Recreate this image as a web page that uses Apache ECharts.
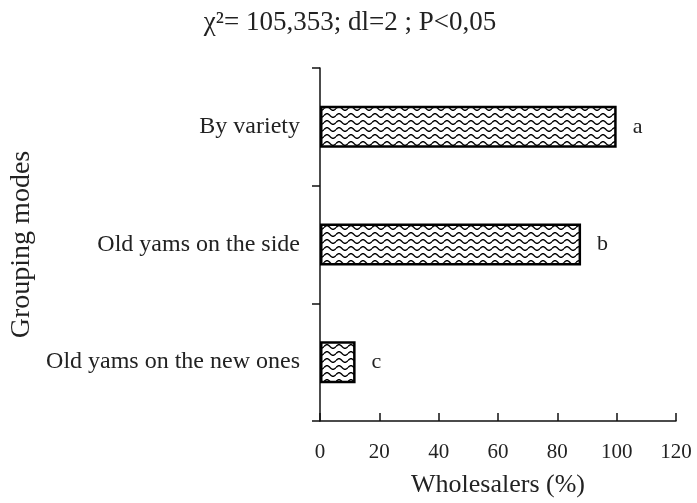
<!DOCTYPE html>
<html>
<head>
<meta charset="utf-8">
<script src="https://cdn.jsdelivr.net/npm/echarts@6/dist/echarts.min.js"></script>
<style>
  html, body { margin: 0; padding: 0; background: #fff; }
  #chart { width: 697px; height: 503px; }
</style>
</head>
<body>
<div id="chart"></div>
<script>
const categories = ['By variety', 'Old yams on the side', 'Old yams on the new ones']
const values = [100, 88, 12]
const letters = ['a', 'b', 'c']
const xTicks = [0, 20, 40, 60, 80, 100, 120]

// wavy hatch tile for the bars
function wavePattern () {
    const c = document.createElement('canvas')
    c.width = 12
    c.height = 7
    const ctx = c.getContext('2d')
    ctx.fillStyle = '#fff'
    ctx.fillRect(0, 0, 12, 7)
    ctx.strokeStyle = '#000'
    ctx.lineWidth = 1.4
    ctx.beginPath()
    for (let x = 0; x <= 12; x += 0.5) {
        const y = 3.5 - 1.8 * Math.sin(2 * Math.PI * x / 12)
        if (x === 0) ctx.moveTo(x, y)
        else ctx.lineTo(x, y)
    }
    ctx.stroke()
    return c
}

const font = 'Liberation Serif'
const myChart = echarts.init(document.getElementById('chart'))

const option = {
    animation: false,
    title: {
        text: 'χ²= 105,353; dl=2 ; P<0,05',
        left: 345,
        textAlign: 'center',
        top: 4,
        textStyle: { fontFamily: font, fontWeight: 'normal', fontSize: 27, color: '#222' }
    },
    grid: { left: 320, right: 21, top: 68, bottom: 82, outerBoundsMode: 'none' },
    xAxis: {
        type: 'value',
        min: xTicks[0],
        max: xTicks[xTicks.length - 1],
        interval: 20,
        name: 'Wholesalers (%)',
        nameLocation: 'middle',
        nameGap: 51,
        nameTextStyle: { fontFamily: font, fontSize: 26, color: '#222' },
        axisLine: { show: true, lineStyle: { color: '#111', width: 1.5 } },
        axisTick: { show: true, inside: true, length: 8, lineStyle: { color: '#111', width: 1.5 } },
        axisLabel: { fontFamily: font, fontSize: 21, color: '#222', margin: 21 },
        splitLine: { show: false }
    },
    yAxis: {
        type: 'category',
        inverse: true,
        data: categories,
        name: 'Grouping modes',
        nameLocation: 'middle',
        nameRotate: 90,
        nameGap: 284,
        nameTextStyle: { fontFamily: font, fontSize: 28, color: '#222' },
        axisLine: { show: true, lineStyle: { color: '#111', width: 1.5 } },
        axisTick: { show: true, inside: false, length: 8, lineStyle: { color: '#111', width: 1.5 } },
        axisLabel: { fontFamily: font, fontSize: 24, color: '#222', margin: 20 }
    },
    series: [
        {
            type: 'bar',
            data: values,
            barWidth: 42,
            itemStyle: {
                color: { image: wavePattern(), repeat: 'repeat' },
                borderColor: '#000',
                borderWidth: 2.5
            },
            label: {
                show: true,
                position: 'right',
                distance: 16,
                fontFamily: font,
                fontSize: 22,
                color: '#222',
                formatter: p => letters[p.dataIndex]
            }
        }
    ]
}

myChart.setOption(option)
</script>
</body>
</html>
